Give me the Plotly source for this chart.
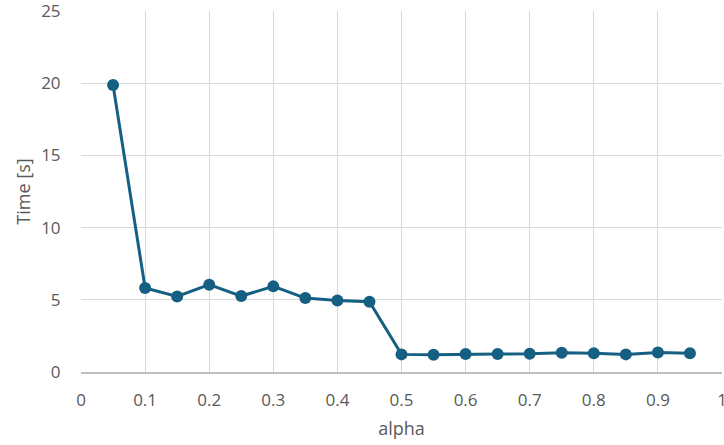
import plotly.graph_objects as go

alpha = [0.05, 0.1, 0.15, 0.2, 0.25, 0.3, 0.35, 0.4, 0.45, 0.5,
         0.55, 0.6, 0.65, 0.7, 0.75, 0.8, 0.85, 0.9, 0.95]
time_s = [19.88, 5.82, 5.23, 6.05, 5.26, 5.93, 5.12, 4.95, 4.86, 1.22,
          1.2, 1.24, 1.24, 1.26, 1.33, 1.3, 1.22, 1.35, 1.3]

x_ticks = [0, 0.1, 0.2, 0.3, 0.4, 0.5, 0.6, 0.7, 0.8, 0.9, 1]
x_labels = ["0", "0.1", "0.2", "0.3", "0.4", "0.5", "0.6", "0.7", "0.8", "0.9", "1"]
y_ticks = [0, 5, 10, 15, 20, 25]

color = "#156082"
font_family = "Open Sans, Noto Sans, sans-serif"

fig = go.Figure(go.Scatter(
    x=alpha, y=time_s, mode="lines+markers",
    line=dict(color=color, width=3),
    marker=dict(color=color, size=12),
    cliponaxis=False,
))

fig.update_layout(
    width=724, height=445,
    margin=dict(l=81, r=2, t=11, b=73),
    paper_bgcolor="white", plot_bgcolor="white",
    showlegend=False,
    font=dict(family=font_family, size=17, color="#595959"),
)
fig.update_xaxes(
    range=[0, 1], tickvals=x_ticks, ticktext=x_labels,
    showgrid=True, gridcolor="#d9d9d9", gridwidth=1.3,
    showline=True, linecolor="#bfbfbf", linewidth=1.5,
    zeroline=False, ticks="outside", ticklen=12, tickcolor="rgba(0,0,0,0)",
    ticklabeloverflow="allow", automargin=False,
    title=dict(text="alpha", font=dict(size=18, color="#595959"), standoff=12),
    tickfont=dict(size=17),
)
fig.update_yaxes(
    range=[0, 25], tickvals=y_ticks,
    showgrid=True, gridcolor="#d9d9d9", gridwidth=1.3,
    showline=False, zeroline=False,
    ticks="outside", ticklen=16, tickcolor="rgba(0,0,0,0)",
    ticklabeloverflow="allow", automargin=False,
    title=dict(text="Time [s]", font=dict(size=18, color="#595959"), standoff=5),
    tickfont=dict(size=17),
)

fig.write_html(
    "out.html",
    config={"displayModeBar": False},
    post_script="document.body.style.margin='0';document.body.style.overflow='hidden';",
)
